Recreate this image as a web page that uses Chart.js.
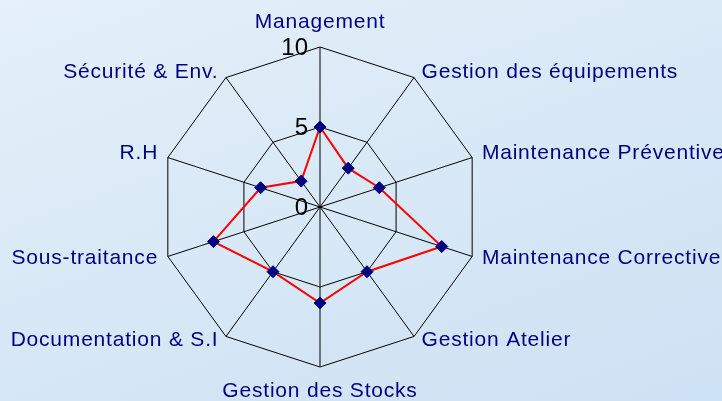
<!DOCTYPE html>
<html>
<head>
<meta charset="utf-8">
<script src="https://cdn.jsdelivr.net/npm/chart.js@4"></script>
<style>
    html, body { margin: 0; padding: 0; }
    body {
        width: 722px;
        height: 401px;
        background: linear-gradient(160deg, rgb(229, 240, 250) 0%, rgb(216, 232, 246) 50%, rgb(205, 226, 244) 100%);
        overflow: hidden;
    }
    #wrap { position: relative; width: 722px; height: 401px; }
</style>
</head>
<body>
<div id="wrap"><canvas id="radar"></canvas></div>
<script>
// Radar - audit scores by area (0 to 10)
const categories = [
    'Management',
    'Gestion des équipements',
    'Maintenance Préventive',
    'Maintenance Corrective',
    'Gestion Atelier',
    'Gestion des Stocks',
    'Documentation & S.I',
    'Sous-traitance',
    'R.H',
    'Sécurité & Env.'
];
const scores = [5, 3, 3.9, 8, 5, 6, 5, 7, 3.9, 2];
const tickValues = [0, 5, 10];

const LABEL_COLOR = '#000080';
const LINE_COLOR = '#ff0000';
const POINT_COLOR = '#000080';

// labels and tick numbers are drawn here so they sit like the original
const radarText = {
    id: 'radarText',
    afterDraw(chart) {
        const scale = chart.scales.r;
        const ctx = chart.ctx;
        const n = categories.length;
        ctx.save();

        // category labels around the web
        ctx.font = '21px "Liberation Sans", Arial, sans-serif';
        ctx.letterSpacing = '0.8px';
        ctx.fillStyle = LABEL_COLOR;
        ctx.textBaseline = 'middle';
        categories.forEach((label, i) => {
            const p = scale.getPointPosition(i, scale.drawingArea);
            const angle = i * 2 * Math.PI / n;
            const sin = Math.sin(angle);
            const cos = Math.cos(angle);
            let x = p.x;
            let y = p.y;
            if (Math.abs(sin) < 0.01) {
                ctx.textAlign = 'center';
                y += cos > 0 ? -25 : 24.5;
            } else {
                ctx.textAlign = sin > 0 ? 'left' : 'right';
                x += (sin > 0 ? 1 : -1) * (4 + 6 * Math.abs(sin));
                y += cos > 0 ? -3 - 3 * cos : 1 - 3 * cos;
            }
            ctx.fillText(label, x, y);
        });

        // tick numbers left of the vertical axis
        ctx.letterSpacing = '0px';
        ctx.font = '24px "Liberation Sans", Arial, sans-serif';
        ctx.fillStyle = '#000000';
        ctx.textAlign = 'right';
        scale.ticks.forEach(t => {
            const d = scale.getDistanceFromCenterForValue(t.value);
            ctx.fillText(String(t.value), scale.xCenter - 12, scale.yCenter - d + 1);
        });
        ctx.restore();
    }
};

const ctx = document.getElementById('radar').getContext('2d');
new Chart(ctx, {
    type: 'radar',
    data: {
        labels: categories,
        datasets: [{
            data: scores,
            fill: false,
            borderColor: LINE_COLOR,
            borderWidth: 2,
            tension: 0,
            pointStyle: 'rectRot',
            pointRadius: 6,
            pointHoverRadius: 6,
            pointBackgroundColor: POINT_COLOR,
            pointBorderColor: POINT_COLOR,
            pointBorderWidth: 1
        }]
    },
    options: {
        responsive: true,
        maintainAspectRatio: false,
        animation: false,
        layout: {
            padding: { left: 160, right: 242, top: 47, bottom: 34 }
        },
        plugins: {
            legend: { display: false },
            tooltip: { enabled: false }
        },
        scales: {
            r: {
                min: tickValues[0],
                max: tickValues[tickValues.length - 1],
                ticks: {
                    stepSize: tickValues[1] - tickValues[0],
                    display: false
                },
                grid: {
                    color: '#000000',
                    lineWidth: 1,
                    circular: false
                },
                angleLines: {
                    color: '#000000',
                    lineWidth: 1
                },
                pointLabels: { display: false }
            }
        }
    },
    plugins: [radarText]
});
</script>
</body>
</html>
